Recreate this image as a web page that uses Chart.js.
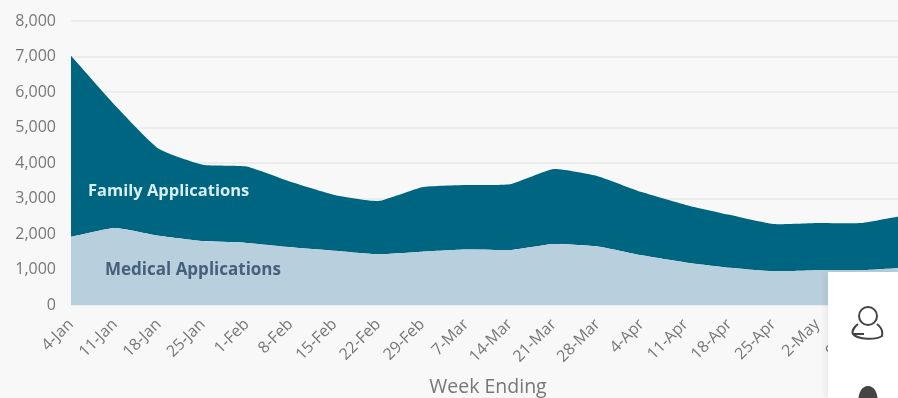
<!DOCTYPE html>
<html>
<head>
<meta charset="utf-8">
<script src="https://cdn.jsdelivr.net/npm/chart.js@4"></script>
<style>
  html, body { margin: 0; padding: 0; background: #f8f8f8; overflow: hidden; width: 898px; height: 398px; }
  #wrap { position: relative; width: 898px; height: 398px; overflow: hidden; font-family: "Open Sans", sans-serif; }
  #applicationsChart { position: absolute; left: 0; top: 0; }
  .area-label { position: absolute; font-weight: 700; white-space: nowrap; }
  #familyLabel { left: 88px; top: 178px; color: #d8eef5; font-size: 16.5px; }
  #medicalLabel { left: 105px; top: 257px; color: #46607c; font-size: 17px; }
  #panel { position: absolute; left: 828px; top: 272px; width: 70px; height: 126px; background: #fff; box-shadow: -4px 0 6px rgba(0,0,0,0.05); }
  #panel svg { position: absolute; left: 22px; }
</style>
</head>
<body>
<div id="wrap">
  <canvas id="applicationsChart"></canvas>
  <div class="area-label" id="familyLabel">Family Applications</div>
  <div class="area-label" id="medicalLabel">Medical Applications</div>
  <div id="panel">
    <svg style="top:32px" width="36" height="40" viewBox="0 0 36 40" fill="none" stroke="#444" stroke-width="2">
      <circle cx="18" cy="12" r="9"></circle>
      <path d="M8 20 C3 24 2 28 3 30 C8 36 26 36 32 32 C33 27 31 23 27 20"></path>
      <path d="M3 30 H14"></path>
    </svg>
    <svg style="top:112px" width="36" height="20" viewBox="0 0 36 20">
      <path d="M8 20 C8 8 12 2 18 2 C24 2 28 8 28 20 Z" fill="#444"></path>
    </svg>
  </div>
</div>
<script>
const weekLabels = ['4-Jan', '11-Jan', '18-Jan', '25-Jan', '1-Feb', '8-Feb', '15-Feb', '22-Feb', '29-Feb', '7-Mar',
    '14-Mar', '21-Mar', '28-Mar', '4-Apr', '11-Apr', '18-Apr', '25-Apr', '2-May', '9-May', '16-May'];
const medicalApps = [1920, 2170, 1950, 1800, 1750, 1630, 1530, 1430, 1500, 1560,
    1550, 1720, 1650, 1400, 1200, 1050, 950, 980, 980, 1050];
const familyApps = [5100, 3460, 2450, 2150, 2150, 1840, 1570, 1500, 1820, 1820,
    1850, 2110, 1980, 1780, 1620, 1490, 1330, 1330, 1330, 1480];

function initChart() {
    const canvas = document.getElementById('applicationsChart');
    canvas.width = 905;
    canvas.height = 398;
    new Chart(canvas.getContext('2d'), {
        type: 'line',
        data: {
            labels: weekLabels,
            datasets: [{
                label: 'Medical Applications',
                data: medicalApps,
                backgroundColor: '#b8cfdd',
                borderWidth: 0,
                pointRadius: 0,
                tension: 0.15,
                fill: 'origin'
            }, {
                label: 'Family Applications',
                data: familyApps,
                backgroundColor: '#006580',
                borderWidth: 0,
                pointRadius: 0,
                tension: 0.15,
                fill: '-1'
            }]
        },
        options: {
            responsive: false,
            animation: false,
            layout: { padding: { top: 21, right: 0, bottom: 0, left: 0 } },
            scales: {
                x: {
                    offset: false,
                    stacked: true,
                    afterFit: scale => {
                        scale.height = 93;
                        // last rotated label would pull the plot in from the right
                        scale.paddingRight = 0;
                    },
                    grid: { display: false },
                    border: { display: false },
                    ticks: {
                        autoSkip: false,
                        maxRotation: 45,
                        minRotation: 45,
                        color: '#777',
                        padding: 2,
                        font: { family: 'Open Sans', size: 16 }
                    },
                    title: {
                        display: true,
                        text: 'Week Ending',
                        color: '#777',
                        padding: { top: 4, bottom: -1 },
                        font: { family: 'Open Sans', size: 19.5 }
                    }
                },
                y: {
                    stacked: true,
                    min: 0,
                    max: 8000,
                    afterFit: scale => {
                        scale.width = 71;
                        scale.paddingTop = 0;
                    },
                    grid: { color: '#ececec', lineWidth: 2, drawTicks: false },
                    border: { display: false },
                    ticks: {
                        stepSize: 1000,
                        color: '#777',
                        padding: 15,
                        font: { family: 'Open Sans', size: 16 },
                        callback: value => value.toLocaleString('en-US')
                    }
                }
            },
            plugins: {
                legend: { display: false },
                tooltip: { enabled: false }
            }
        }
    });
}

initChart();
</script>
</body>
</html>
